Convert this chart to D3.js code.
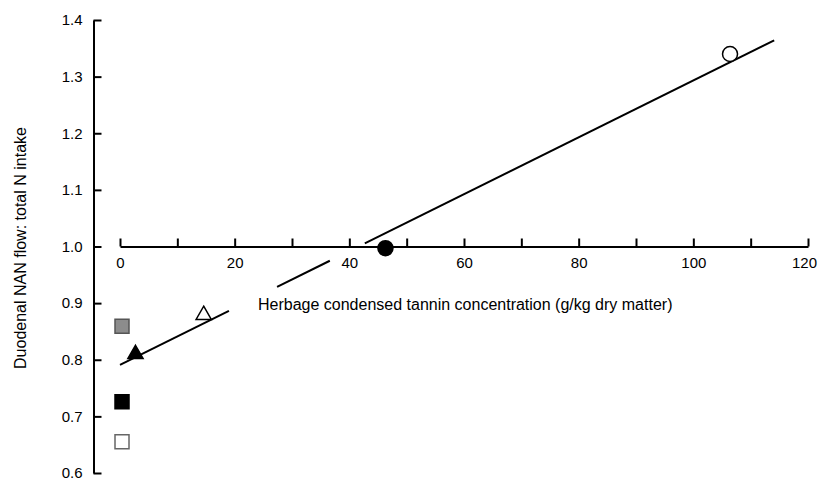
<!DOCTYPE html>
<html lang="en">
<head>
<meta charset="UTF-8">
<title>Duodenal NAN flow vs condensed tannin</title>
<script src="https://cdn.jsdelivr.net/npm/d3@7"></script>
<style>
    body { margin: 0; background: #fff; }
    svg { display: block; font-family: "Liberation Sans", Arial, sans-serif; }
</style>
</head>
<body>
<div id="chart"></div>
<script>
// data
var tannin = [106.4, 46.3, 14.6, 2.7, 0.35, 0.35, 0.35];
var nanRatio = [1.34, 0.997, 0.879, 0.81, 0.859, 0.726, 0.655];
var kind = ["openCircle", "filledCircle", "openTriangle", "filledTriangle", "greySquare", "filledSquare", "openSquare"];

// fitted line end points, and the bits of it hidden behind labels
var fitX = [0, 114.1];
var fitY = [0.791, 1.364];
var fitGaps = [[19.0, 27.4], [36.6, 42.7]];

var xTicks = [0, 10, 20, 30, 40, 50, 60, 70, 80, 90, 100, 110, 120];
var yTicks = [0.6, 0.7, 0.8, 0.9, 1.0, 1.1, 1.2, 1.3, 1.4];

var styles = {
    openCircle:     { shape: d3.symbolCircle,   size: 177, fill: "#fff",  stroke: "#000" },
    filledCircle:   { shape: d3.symbolCircle,   size: 177, fill: "#000",  stroke: "#000" },
    openTriangle:   { shape: d3.symbolTriangle, size: 100, fill: "#fff",  stroke: "#000" },
    filledTriangle: { shape: d3.symbolTriangle, size: 100, fill: "#000",  stroke: "#000" },
    greySquare:     { shape: d3.symbolSquare,   size: 196, fill: "#8c8c8c", stroke: "#555" },
    filledSquare:   { shape: d3.symbolSquare,   size: 196, fill: "#000",  stroke: "#000" },
    openSquare:     { shape: d3.symbolSquare,   size: 196, fill: "#fff",  stroke: "#666" }
};

var width = 819, height = 482;

var x = d3.scaleLinear().domain([0, 120]).range([120, 808]);
var y = d3.scaleLinear().domain([0.6, 1.4]).range([473, 20]);

var svg = d3.select("#chart").append("svg")
    .attr("width", width)
    .attr("height", height);

// regression line, split where it runs under the labels
var slope = (fitY[1] - fitY[0]) / (fitX[1] - fitX[0]);
function fitAt(v) { return fitY[0] + slope * (v - fitX[0]); }
var cuts = [fitX[0]];
fitGaps.forEach(function(g) { cuts.push(g[0], g[1]); });
cuts.push(fitX[1]);
var segs = [];
for (var i = 0; i < cuts.length; i += 2) segs.push([cuts[i], cuts[i + 1]]);

svg.append("g").selectAll("line")
    .data(segs)
    .enter().append("line")
    .attr("x1", function(d) { return x(d[0]); })
    .attr("y1", function(d) { return y(fitAt(d[0])); })
    .attr("x2", function(d) { return x(d[1]); })
    .attr("y2", function(d) { return y(fitAt(d[1])); })
    .attr("stroke", "#000")
    .attr("stroke-width", 2);

// y axis, ticks pointing inwards
var yAxis = d3.axisLeft(y)
    .tickValues(yTicks)
    .tickFormat(d3.format(".1f"))
    .tickSizeInner(-8)
    .tickSizeOuter(0)
    .tickPadding(11);

var gy = svg.append("g")
    .attr("transform", "translate(93.5,0)")
    .call(yAxis);

// x axis crosses at y = 1.0
var xAxis = d3.axisBottom(x)
    .tickValues(xTicks)
    .tickFormat(function(d) { return d % 20 === 0 ? d : ""; })
    .tickSizeInner(-8)
    .tickSizeOuter(0)
    .tickPadding(10.5);

var gx = svg.append("g")
    .attr("transform", "translate(0," + y(1.0) + ")")
    .call(xAxis);

[gx, gy].forEach(function(g) {
    g.attr("font-size", 15).attr("font-family", "Liberation Sans, Arial, sans-serif");
    g.select(".domain").attr("stroke-width", 2);
    g.selectAll(".tick line").attr("stroke-width", 2);
    g.selectAll(".tick text").attr("fill", "#000");
});

// last x label is pulled in so it stays inside the picture
gx.selectAll(".tick text")
    .filter(function(d) { return d === 120; })
    .attr("dx", -4);

// axis titles
svg.append("text")
    .attr("x", 258)
    .attr("y", 309.5)
    .attr("font-size", 16)
    .attr("fill", "#000")
    .text("Herbage condensed tannin concentration (g/kg dry matter)");

svg.append("text")
    .attr("transform", "translate(25.5,248) rotate(-90)")
    .attr("text-anchor", "middle")
    .attr("font-size", 16)
    .attr("fill", "#000")
    .text("Duodenal NAN flow: total N intake");

// points
svg.append("g").selectAll("path")
    .data(tannin.map(function(t, i) { return { t: t, v: nanRatio[i], k: kind[i] }; }))
    .enter().append("path")
    .attr("transform", function(d) { return "translate(" + x(d.t) + "," + y(d.v) + ")"; })
    .attr("d", function(d) { return d3.symbol().type(styles[d.k].shape).size(styles[d.k].size)(); })
    .attr("fill", function(d) { return styles[d.k].fill; })
    .attr("stroke", function(d) { return styles[d.k].stroke; })
    .attr("stroke-width", 1.5);
</script>
</body>
</html>
